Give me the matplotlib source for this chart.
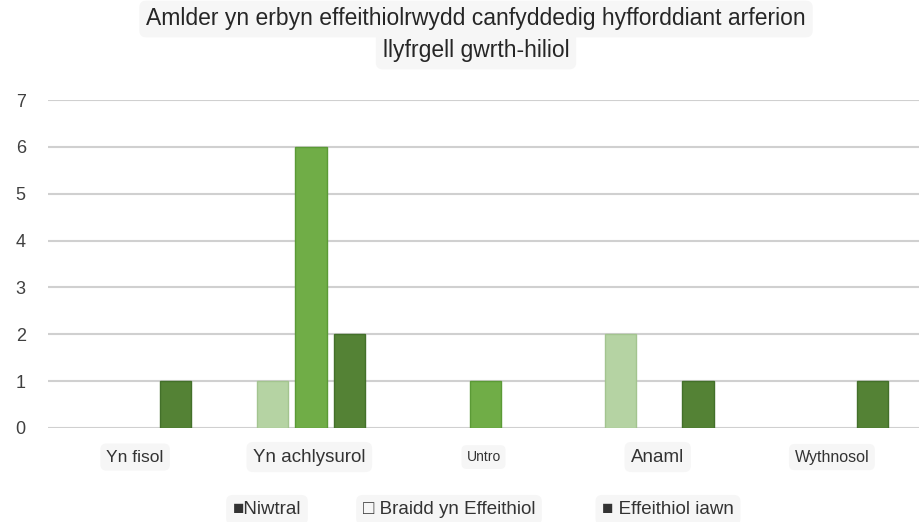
import matplotlib.pyplot as plt
import numpy as np

plt.rcParams["font.family"] = ["Liberation Sans", "DejaVu Sans"]

categories = ["Yn fisol", "Yn achlysurol", "Untro", "Anaml", "Wythnosol"]
series_names = ["Niwtral", "Braidd yn Effeithiol", "Effeithiol iawn"]
niwtral = [0, 1, 0, 2, 0]
braidd = [0, 6, 1, 0, 0]
effeithiol_iawn = [1, 2, 0, 1, 1]
yticks = [0, 1, 2, 3, 4, 5, 6, 7]

colors = ["#b5d3a3", "#70ad47", "#548235"]
edges = ["#a3c48f", "#5b9a36", "#43702a"]
label_sizes = [12.5, 13.5, 10, 13.5, 11.5]
legend_marks = ["\u25a0", "\u25a1 ", "\u25a0 "]

fig = plt.figure(figsize=(9.19, 5.22), dpi=100)
ax = fig.add_axes([48 / 919, 1 - 428 / 522, 1 - 48 / 919, (428 - 100) / 522])

x = np.arange(len(categories))
width = 0.18
step = 0.222
for i, vals in enumerate([niwtral, braidd, effeithiol_iawn]):
    # no outline for empty bars so nothing shows along the zero line
    lw = [1.0 if v > 0 else 0 for v in vals]
    ax.bar(x + (i - 1) * step + 0.01, vals, width=width, color=colors[i],
           edgecolor=edges[i], linewidth=lw, zorder=3)

ax.set_xlim(-0.5, len(categories) - 0.5)
ax.set_ylim(0, 7)
ax.set_yticks(yticks)
ax.set_yticklabels([str(v) for v in yticks], fontsize=13, color="#404040")
ax.yaxis.grid(True, color="#d0d0d0", linewidth=1.5, zorder=0)
ax.tick_params(axis="y", length=0, pad=16)
ax.tick_params(axis="x", length=0)
ax.set_xticks([])
for s in ax.spines.values():
    s.set_visible(False)

box = dict(boxstyle="round,pad=0.35", fc="#f6f6f6", ec="none")
for xi, lab, fs in zip(x, categories, label_sizes):
    ax.text(xi, -0.62, lab, ha="center", va="center", fontsize=fs,
            color="#333333", bbox=box, transform=ax.transData, clip_on=False)

title_box = dict(boxstyle="round,pad=0.3", fc="#f6f6f6", ec="none")
fig.text(476 / 919, 1 - 19 / 522,
         "Amlder yn erbyn effeithiolrwydd canfyddedig hyfforddiant arferion",
         ha="center", va="center", fontsize=16.5, color="#262626", bbox=title_box)
fig.text(476 / 919, 1 - 51 / 522, "llyfrgell gwrth-hiliol",
         ha="center", va="center", fontsize=16.5, color="#262626", bbox=title_box)

legend_x = [267, 449, 668]
for lx, mark, name in zip(legend_x, legend_marks, series_names):
    fig.text(lx / 919, 1 - 510 / 522, mark + name, ha="center", va="center",
             fontsize=13.5, color="#333333", bbox=box)

fig.savefig("out.png", dpi=100)
